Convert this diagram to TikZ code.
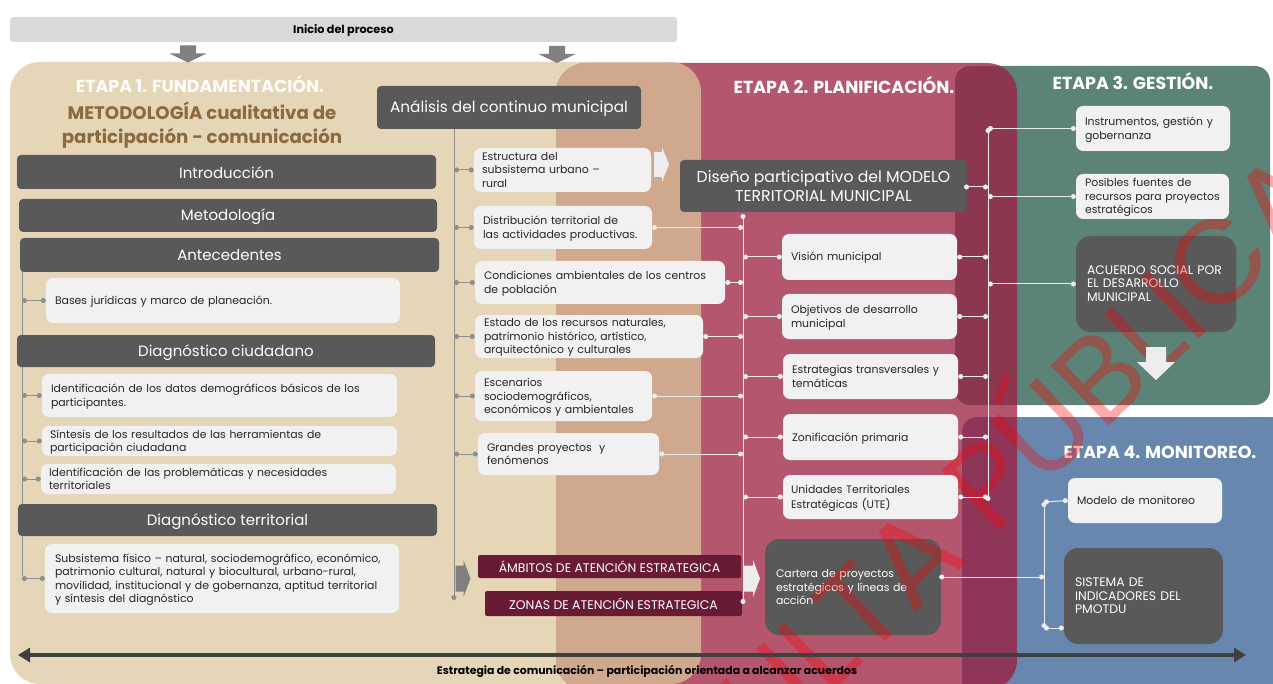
\documentclass[tikz,border=0pt]{standalone}
\usepackage{fontspec}
\setmainfont{Poppins}
\usetikzlibrary{arrows.meta,calc}
\definecolor{tan1}{HTML}{E6D6B8}
\definecolor{rose}{HTML}{B5566F}
\definecolor{over}{HTML}{D0A88E}
\definecolor{teal1}{HTML}{5B8377}
\definecolor{blue1}{HTML}{6787AE}
\definecolor{wine1}{HTML}{8C3650}
\definecolor{wine2}{HTML}{8F3558}
\definecolor{dark1}{HTML}{595959}
\definecolor{lite}{HTML}{F1F1F1}
\definecolor{maroon1}{HTML}{691B36}
\definecolor{brown1}{HTML}{8B6B3E}
\definecolor{line1}{HTML}{8F8F8F}
\tikzset{
  bar/.style={fill=dark1,text=white,rounded corners=4pt,font=\fontsize{15}{16}\selectfont,align=center,inner sep=0pt},
  darkbox/.style={fill=dark1,text=white,rounded corners=14pt,font=\fontsize{10.9}{13.5}\selectfont,align=left,inner ysep=0pt},
  capsbox/.style={darkbox,font=\fontsize{12.4}{13.5}\selectfont},
  litebox/.style={fill=lite,text=black!85,rounded corners=7pt,font=\fontsize{10.9}{13.5}\selectfont,align=left,inner ysep=0pt},
  redbox/.style={fill=maroon1,text=white,rounded corners=2pt,font=\fontsize{12.5}{14}\selectfont,align=center,inner sep=0pt},
  title/.style={text=white,font=\fontsize{17.4}{20}\selectfont\bfseries,inner sep=0pt},
  gline/.style={draw=line1,line width=1pt,{Circle[length=5pt]}-{Circle[length=5pt]}},
  wline/.style={draw=white!92!black,line width=1pt,{Circle[length=5pt]}-{Circle[length=5pt]}},
  spine/.style={line width=1pt},
  cap1/.style={text=black,font=\fontsize{10.9}{12}\selectfont\bfseries,inner sep=0pt},
}
\newcommand{\lowr}[2]{\raisebox{-#1pt}[\height][\depth]{#2}}
\newcommand{\bx}[7]{% name x1 y1 x2 y2 style text
  \pgfmathsetmacro{\cx}{(#2+#4)/2}\pgfmathsetmacro{\cy}{(#3+#5)/2}
  \pgfmathsetmacro{\bw}{#4-#2}\pgfmathsetmacro{\bh}{#5-#3}
  \node[#6,minimum width=\bw pt,minimum height=\bh pt] (#1) at (\cx,\cy) {#7};}
\newcommand{\lx}[8]{% name x1 y1 x2 y2 style pad text
  \pgfmathsetmacro{\cx}{(#2+#4)/2}\pgfmathsetmacro{\cy}{(#3+#5)/2}
  \pgfmathsetmacro{\bw}{#4-#2}\pgfmathsetmacro{\bh}{#5-#3}\pgfmathsetmacro{\tw}{#4-#2-2*#7+30}
  \node[#6,inner xsep=0pt,minimum width=\bw pt,minimum height=\bh pt,text width=\bw pt] (#1) at (\cx,\cy) {\hspace*{#7pt}\lowr{1.3}{\parbox{\tw pt}{\raggedright\strut #8\strut}}};}
% block arrow: colour, cx, cy, rotation, length, head width, shaft width, head length
\newcommand{\fatarrow}[8]{%
  \pgfmathsetmacro{\la}{#5/2}\pgfmathsetmacro{\lb}{#5/2-#8}
  \pgfmathsetmacro{\ha}{#6/2}\pgfmathsetmacro{\sa}{#7/2}
  \fill[#1,shift={(#2,#3)},rotate=#4] (-\la,-\sa) -- (\lb,-\sa) -- (\lb,-\ha) -- (\la,0) -- (\lb,\ha) -- (\lb,\sa) -- (-\la,\sa) -- cycle;}
\begin{document}
\begin{tikzpicture}[x=1pt,y=-1pt]
\useasboundingbox (0,0) rectangle (1273,684);
\clip (0,0) rectangle (1273,684);
% panels
\fill[tan1,rounded corners=30pt] (10,62) rectangle (701,684);
\fill[rose,rounded corners=30pt] (556,63) rectangle (1017,690);
\begin{scope}
  \clip[rounded corners=30pt] (10,62) rectangle (701,684);
  \fill[over,rounded corners=30pt] (556,63) rectangle (1017,690);
\end{scope}
\fill[teal1,rounded corners=15pt] (955,66) rectangle (1270,405);
\begin{scope}
  \clip[rounded corners=30pt] (556,63) rectangle (1017,690);
  \fill[wine1,rounded corners=15pt] (955,66) rectangle (1270,405);
\end{scope}
\fill[blue1,rounded corners=15pt] (962,417) rectangle (1290,700);
\begin{scope}
  \clip[rounded corners=30pt] (556,63) rectangle (1017,690);
  \fill[wine2,rounded corners=15pt] (962,417) rectangle (1290,700);
\end{scope}
% top
\bx{inicio}{10}{17}{677}{42}{fill=black!15,rounded corners=3pt,text=black,font=\fontsize{11.2}{12}\selectfont\bfseries,inner sep=0pt}{\lowr{1}{Inicio del proceso}}
\fatarrow{black!50}{188}{54}{-90}{17}{37}{16}{9}
\fatarrow{black!50}{557}{54.5}{-90}{17}{37}{16}{9}
% titles
\node[title,text=white!93!tan1] (t1) at (200,84) {ETAPA 1. FUNDAMENTACIÓN.};
\node[title] (t2) at (844,85) {ETAPA 2. PLANIFICACIÓN.};
\node[title] (t3) at (1133,81) {ETAPA 3. GESTIÓN.};
\node[title] (t4) at (1160,452) {ETAPA 4. MONITOREO.};
\node[text=brown1,font=\fontsize{18.2}{24}\selectfont\bfseries,align=center,inner sep=0pt] (met) at (202,125) {METODOLOGÍA cualitativa de\\participación - comunicación};
% left spine runs under the bars
\coordinate (sl1) at (22,260); \coordinate (sl2) at (22,576);
\draw[line1,spine] (sl1) -- (sl2);
% dark items
\bx{intro}{17}{155}{436}{189}{bar}{\lowr{1}{Introducción}}
\bx{meto}{19}{199}{437}{232}{bar}{\lowr{1.3}{Metodología}}
\bx{ante}{20}{238}{439}{272}{bar}{\lowr{.5}{Antecedentes}}
\bx{dciu}{17}{335}{435}{367}{bar}{\lowr{1.3}{Diagnóstico ciudadano}}
\bx{dter}{18}{504}{437}{536}{bar}{\lowr{1.3}{Diagnóstico territorial}}
\bx{anal}{377}{86}{641}{129}{bar,font=\fontsize{15.3}{18}\selectfont}{\lowr{1.5}{Análisis del continuo municipal}}
\bx{dise}{680}{160}{967}{212}{bar,font=\fontsize{15.7}{19}\selectfont}{Diseño participativo del MODELO\\TERRITORIAL MUNICIPAL}
\lx{cart}{765}{539}{941}{635}{darkbox}{11}{Cartera de proyectos\\estratégicos y líneas de\\acción}
\lx{acue}{1076}{236}{1236}{332}{capsbox}{11}{ACUERDO SOCIAL POR\\EL DESARROLLO\\MUNICIPAL}
\lx{sist}{1064}{548}{1223}{644}{capsbox}{11}{SISTEMA DE\\INDICADORES DEL\\PMOTDU}
% watermark
\node[text=red,opacity=.33,rotate=44,font=\fontsize{120}{120}\selectfont,inner sep=0pt] (wm) at (1016,439) {ULTA PÚBLICA};
% block arrows
\fatarrow{white!93!black}{661.5}{164.5}{0}{15}{35}{25}{7}
\fatarrow{white!93!black}{752}{578.5}{0}{16}{37}{26}{7}
\fatarrow{black!50}{463}{578.5}{0}{15}{37}{26}{7}
\fatarrow{white!93!black}{1156}{363.5}{-90}{33}{38}{20}{18}
% light left
\lx{bases}{46}{278}{400}{323}{litebox}{9}{Bases jurídicas y marco de planeación.}
\lx{ide}{42}{374}{397}{417}{litebox}{9}{Identificación de los datos demográficos básicos de los\\participantes.}
\lx{sin}{42}{426}{397}{456}{litebox}{8}{Síntesis de los resultados de las herramientas de\\participación ciudadana}
\lx{prob}{41}{464}{396}{494}{litebox}{8}{Identificación de las problemáticas y necesidades\\territoriales}
\lx{subs}{45}{544}{399}{613}{litebox}{10}{Subsistema físico – natural, sociodemográfico, económico,\\patrimonio cultural, natural y biocultural, urbano-rural,\\movilidad, institucional y de gobernanza, aptitud territorial\\y síntesis del diagnóstico}
% light mid
\lx{estr}{474}{148}{651}{192}{litebox}{8}{Estructura del\\subsistema urbano –\\rural}
\lx{dist}{474}{206}{652}{249}{litebox}{9}{Distribución territorial de\\las actividades productivas.}
\lx{cond}{475}{261}{725}{304}{litebox}{9}{Condiciones ambientales de los centros\\de población}
\lx{esta}{475}{315}{703}{358}{litebox}{9}{Estado de los recursos naturales,\\patrimonio histórico, artístico,\\arquitectónico y culturales}
\lx{esce}{475}{371}{652}{421}{litebox}{9}{Escenarios\\sociodemográficos,\\económicos y ambientales}
\lx{gran}{478}{433}{659}{475}{litebox}{9}{Grandes proyectos\ \ y\\fenómenos}
\bx{ambi}{478}{555}{741}{578}{redbox}{ÁMBITOS DE ATENCIÓN ESTRATEGICA}
\bx{zona}{485}{591}{742}{616}{redbox}{ZONAS DE ATENCIÓN ESTRATEGICA}
% light right
\lx{visi}{782}{234}{957}{280}{litebox}{9}{Visión municipal}
\lx{obje}{782}{294}{957}{339}{litebox}{9}{Objetivos de desarrollo\\municipal}
\lx{estt}{783}{354}{958}{399}{litebox}{9}{Estrategias transversales y\\temáticas}
\lx{zoni}{783}{414}{958}{460}{litebox}{9}{Zonificación primaria}
\lx{unid}{783}{475}{958}{519}{litebox}{8}{Unidades Territoriales\\Estratégicas (UTE)}
\lx{inst}{1076}{106}{1230}{151}{litebox}{9}{Instrumentos, gestión y\\gobernanza}
\lx{posi}{1076}{174}{1229}{219}{litebox}{9}{Posibles fuentes de\\recursos para proyectos\\estratégicos}
\lx{mode}{1068}{478}{1222}{523}{litebox}{9}{Modelo de monitoreo}
% spines
\coordinate (sm1) at (454,129); \coordinate (sm2) at (454,600);
\coordinate (sr1) at (743,214); \coordinate (sr2) at (743,604);
\coordinate (st1) at (988,128); \coordinate (st2) at (988,501);
\coordinate (sm4a) at (1044,502); \coordinate (sm4b) at (1044,628);
\draw[line1,spine,-{Circle[length=5pt]}] (sm1) -- (sm2);
\draw[white!92!black,spine,{Circle[length=5pt]}-{Circle[length=5pt]}] (sr1) -- (sr2);
\draw[white!92!black,spine,{Circle[length=5pt]}-{Circle[length=5pt]}] (st1) -- (st2);
\draw[white!92!black,spine,{Circle[length=5pt]}-{Circle[length=5pt]}] (sm4a) -- (sm4b);
\foreach \n in {bases,ide,sin,prob,subs} \draw[gline] (sl1 |- \n.west) -- (\n.west);
\foreach \n in {estr,dist,cond,esta,esce,gran} \draw[gline] (sm1 |- \n.west) -- (\n.west);
\foreach \n in {dist,cond,esta,esce,gran} \draw[wline] (\n.east) -- (sr1 |- \n.east);
\foreach \n in {visi,obje,estt,zoni,unid} {\draw[wline] (sr1 |- \n.west) -- (\n.west); \draw[wline] (\n.east) -- (st1 |- \n.east);}
\foreach \n in {inst,posi,acue} \draw[wline] (st1 |- \n.west) -- (\n.west);
\coordinate (de) at (964,187);
\draw[wline] (de) -- (st1 |- de);
\draw[wline] (cart.east) ++(-2,-10) coordinate (ce) (ce) -- (sm4a |- ce);
\draw[wline] (sm4a) -- (mode.west);
\draw[wline] (sm4b) -- (sist.west |- sm4b);
% bottom
\coordinate (bl) at (18,655); \coordinate (br) at (1246,655);
\draw[black!75,line width=4pt,{Triangle[length=12pt,width=14pt]}-{Triangle[length=12pt,width=14pt]}] (bl) -- (br);
\node[cap1] (estc) at (647,671) {Estrategia de comunicación – participación orientada a alcanzar acuerdos};
\end{tikzpicture}
\end{document}
